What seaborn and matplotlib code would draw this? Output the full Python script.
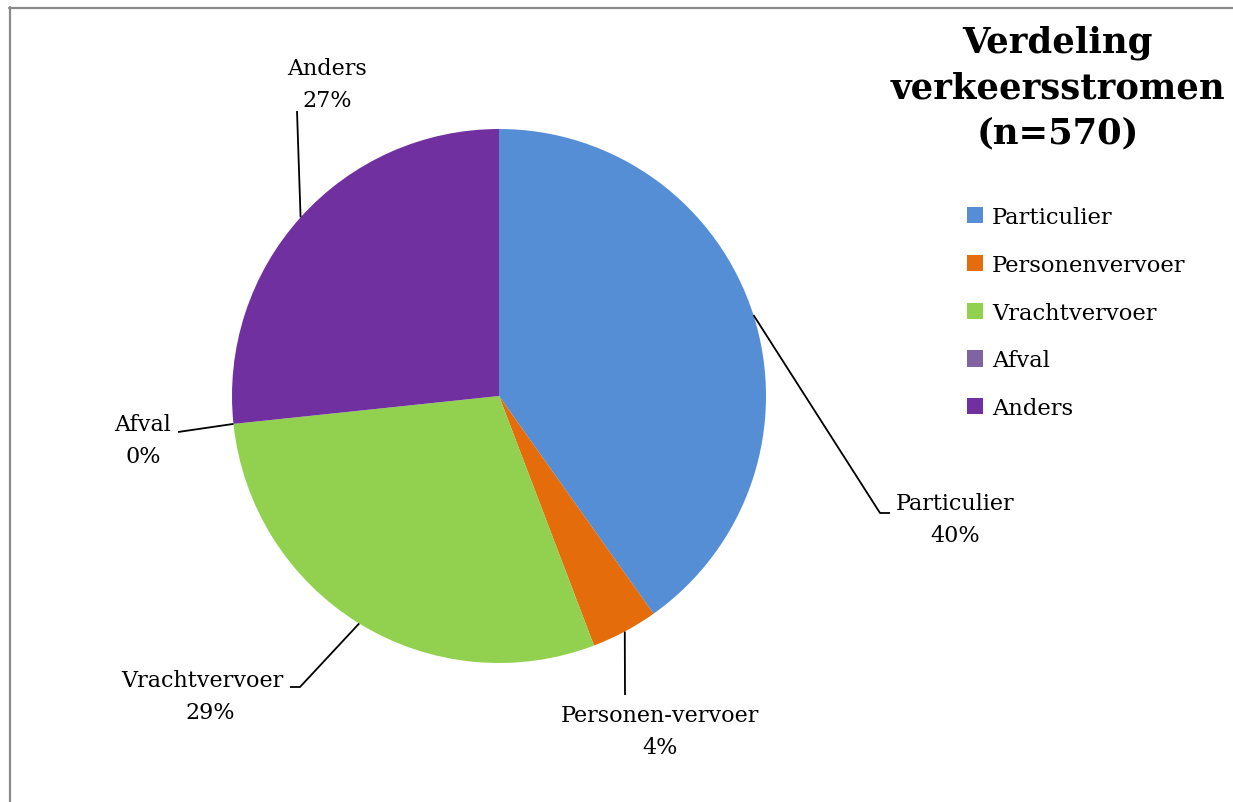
import numpy as np
import matplotlib
matplotlib.use("Agg")
import matplotlib.pyplot as plt
from matplotlib.lines import Line2D
from matplotlib.patches import Patch
import seaborn as sns

# Verkeersstromen (n=570)
categories = ["Particulier", "Personenvervoer", "Vrachtvervoer", "Afval", "Anders"]
slice_labels = ["Particulier", "Personen-vervoer", "Vrachtvervoer", "Afval", "Anders"]
counts = [229, 23, 166, 0, 152]
colors = ["#558ED5", "#E46C0A", "#92D050", "#8064A2", "#7030A0"]
title = "Verdeling\nverkeersstromen\n(n=570)"

sns.set_theme(style="white")
palette = sns.color_palette(colors)
plt.rcParams["font.family"] = ["DejaVu Serif"]

W, H = 1233, 803
fig = plt.figure(figsize=(W / 100, H / 100), dpi=100)
ax = fig.add_axes([0, 0, 1, 1])

cx, cy, r = 499, H - 397, 267
wedges, _ = ax.pie(counts, colors=palette, startangle=90, counterclock=False,
                   radius=r, center=(cx, cy), frame=True,
                   wedgeprops=dict(linewidth=0))
ax.set_xlim(0, W)
ax.set_ylim(0, H)
ax.set_aspect("equal")
ax.axis("off")

total = sum(counts)
pct = [round(100 * c / total) for c in counts]

# label anchor (x, y of first text line) and leader elbow points, in px from top-left
layout = {
    "Particulier": dict(text=(955, 504), path=[(880, 514), (890, 514)]),
    "Personen-vervoer": dict(text=(660, 716), path=[(625, 696)]),
    "Vrachtvervoer": dict(text=(202, 681), path=[(300, 688), (290, 688)]),
    "Afval": dict(text=(143, 425), path=[(178, 433)]),
    "Anders": dict(text=(327, 69), path=[(297, 112)]),
}

for w, lab, p in zip(wedges, slice_labels, pct):
    mid = np.deg2rad((w.theta1 + w.theta2) / 2)
    ex, ey = cx + r * np.cos(mid), cy + r * np.sin(mid)
    lay = layout[lab]
    xs = [ex] + [q[0] for q in lay["path"]]
    ys = [ey] + [H - q[1] for q in lay["path"]]
    ax.plot(xs, ys, color="black", lw=1.3, solid_capstyle="butt", clip_on=False)
    tx, ty = lay["text"]
    ax.text(tx, H - ty, lab, ha="center", va="center", fontsize=16, color="black")
    ax.text(tx + (8 if lab == "Vrachtvervoer" else 0), H - ty - 32, f"{p}%",
            ha="center", va="center", fontsize=16, color="black")

fig.text(1058 / W, 1 - 88 / H, title, ha="center", va="center", fontsize=25.5,
         fontweight="bold", linespacing=1.42, color="black")

handles = [Patch(facecolor=c, edgecolor="none") for c in palette]
leg = fig.legend(handles, categories, loc="upper left",
                 bbox_to_anchor=(958 / W, 1 - 198 / H), frameon=False,
                 fontsize=16.3, handlelength=0.72, handleheight=0.72,
                 handletextpad=0.38, labelspacing=1.14, borderaxespad=0)
for t in leg.get_texts():
    t.set_color("black")

# outer frame (top and left edges)
fig.add_artist(Line2D([9.5 / W, 9.5 / W], [0, 1 - 8 / H], color="#8a8a8a", lw=1.6,
                      transform=fig.transFigure))
fig.add_artist(Line2D([9 / W, 1], [1 - 8.5 / H, 1 - 8.5 / H], color="#8a8a8a", lw=1.6,
                      transform=fig.transFigure))

fig.savefig("out.png", dpi=100, facecolor="white")
